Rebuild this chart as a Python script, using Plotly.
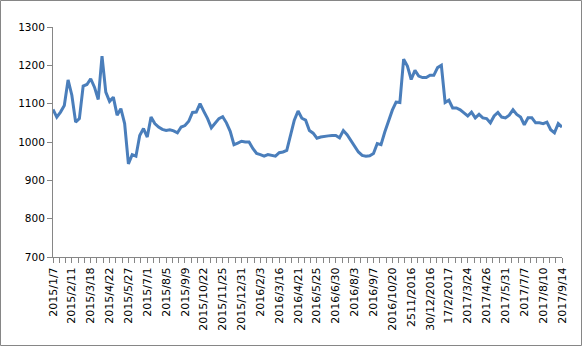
import plotly.graph_objects as go

tick_labels = ["2015/1/7", "2015/2/11", "2015/3/18", "2015/4/22", "2015/5/27", "2015/7/1",
               "2015/8/5", "2015/9/9", "2015/10/22", "2015/11/25", "2015/12/31", "2016/2/3",
               "2016/3/16", "2016/4/21", "2016/5/25", "2016/6/30", "2016/8/3", "2016/9/7",
               "2016/10/20", "2511/2016", "30/12/2016", "17/2/2017", "2017/3/24", "2017/4/26",
               "2017/5/31", "2017/7/7", "2017/8/10", "2017/9/14"]

values = [1085, 1065, 1078, 1095, 1162, 1122, 1052, 1061, 1146, 1150,
          1165, 1143, 1111, 1224, 1130, 1106, 1117, 1070, 1087, 1048,
          943, 967, 963, 1017, 1035, 1013, 1065, 1048, 1039, 1033,
          1030, 1032, 1029, 1024, 1039, 1043, 1054, 1077, 1078, 1100,
          1080, 1061, 1037, 1048, 1061, 1066, 1050, 1028, 993, 997,
          1002, 1000, 1000, 983, 970, 967, 963, 967, 965, 963,
          972, 974, 978, 1017, 1057, 1081, 1062, 1057, 1030, 1023,
          1010, 1013, 1015, 1016, 1017, 1017, 1011, 1030, 1019, 1004,
          987, 974, 965, 963, 964, 970, 996, 993, 1026, 1057,
          1083, 1104, 1103, 1216, 1198, 1163, 1187, 1172, 1168, 1168,
          1174, 1174, 1194, 1200, 1103, 1109, 1089, 1089, 1084, 1076,
          1068, 1078, 1063, 1072, 1063, 1061, 1050, 1068, 1077, 1065,
          1063, 1070, 1084, 1072, 1065, 1045, 1063, 1063, 1050, 1050,
          1048, 1052, 1032, 1024, 1048, 1039]

label_step = 5
x_idx = list(range(len(values)))
tick_pos = [i * label_step for i in range(len(tick_labels))]
minor_pos = [i * label_step / 3 for i in range(3 * (len(tick_labels) - 1) + 1)]

axis_color = "#868686"
yfont = dict(family="DejaVu Sans", size=10.5, color="#000000")
xfont = dict(family="DejaVu Sans", size=11, color="#000000")

fig = go.Figure()
fig.add_trace(go.Scatter(x=x_idx, y=values, mode="lines",
                         line=dict(color="#4A7EBB", width=3), hoverinfo="skip"))

L, R, T, B = 53, 22, 27, 91
W, H = 584, 348
pw, ph = W - L - R, H - T - B

fig.update_layout(
    width=W, height=H,
    margin=dict(l=L, r=R, t=T, b=B, pad=0),
    paper_bgcolor="white", plot_bgcolor="white",
    showlegend=False,
    font=yfont,
    xaxis=dict(range=[0, len(values) - 1], showgrid=False, zeroline=False,
               showline=True, linecolor=axis_color, linewidth=1,
               tickmode="array", tickvals=tick_pos, ticktext=tick_labels,
               tickangle=-90, ticks="outside", ticklen=5, tickcolor=axis_color,
               minor=dict(tickvals=minor_pos, ticks="outside", ticklen=5,
                          tickcolor=axis_color, showgrid=False),
               tickfont=xfont),
    yaxis=dict(range=[700, 1300], dtick=100, tick0=700, showgrid=False, zeroline=False,
               showline=True, linecolor=axis_color, linewidth=1,
               ticks="outside", ticklen=5, tickcolor=axis_color, tickfont=yfont),
    shapes=[dict(type="rect", xref="paper", yref="paper",
                 x0=(0.5 - L) / pw, x1=(W - 2.5 - L) / pw,
                 y0=(H - B - (H - 2.5)) / ph, y1=(H - B - 0.5) / ph,
                 line=dict(color=axis_color, width=1), fillcolor="rgba(0,0,0,0)",
                 layer="below")],
)

fig.write_html("out.html")
